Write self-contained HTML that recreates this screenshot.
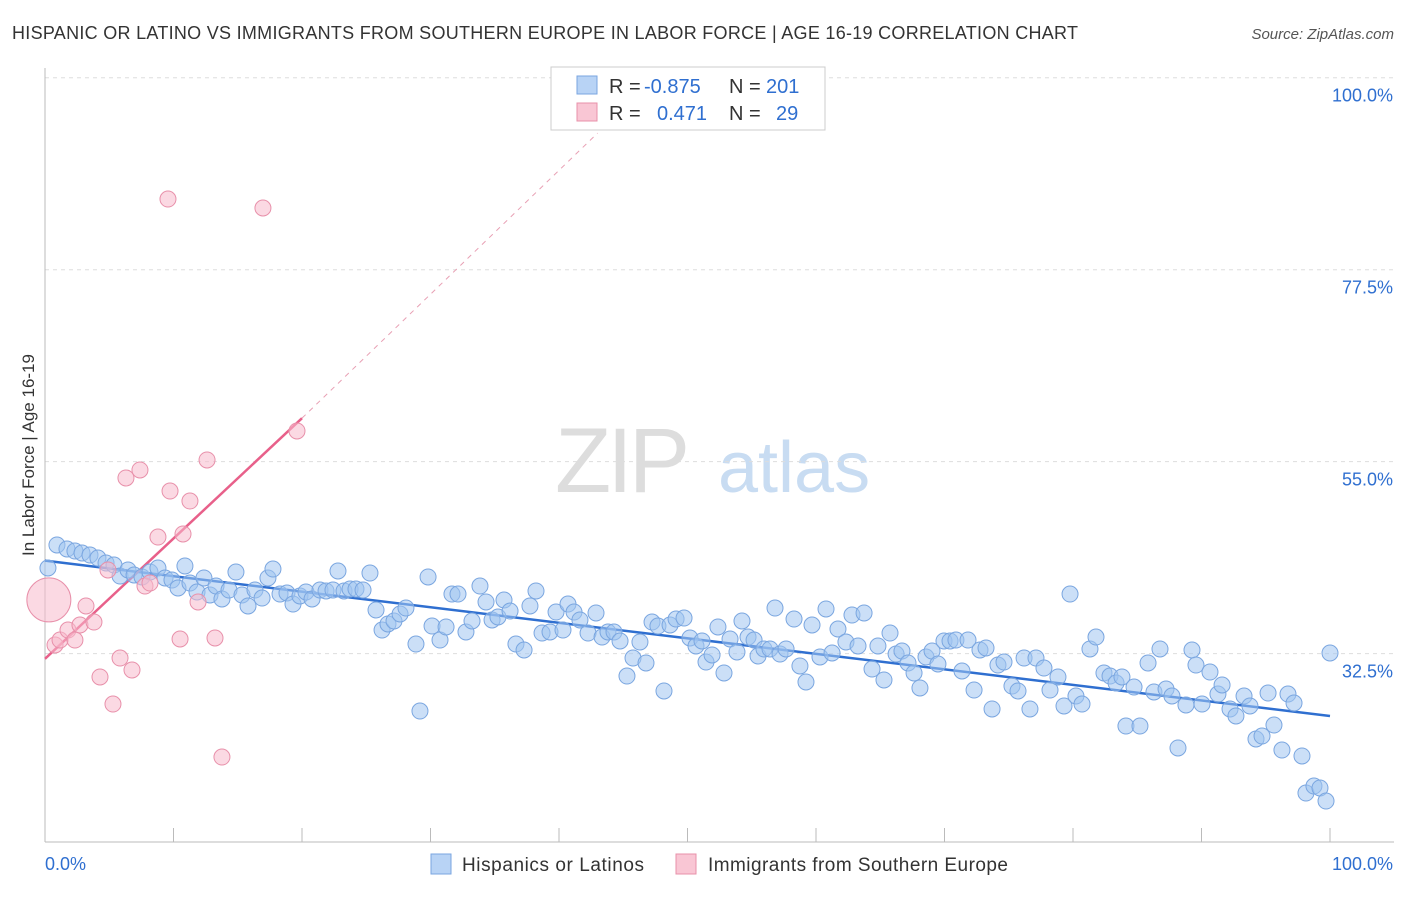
<!DOCTYPE html>
<html><head><meta charset="utf-8">
<style>
body{margin:0;background:#fff;font-family:"Liberation Sans",sans-serif;}
svg text{font-family:"Liberation Sans",sans-serif;}
</style></head>
<body>
<svg id="chart" width="1406" height="892" xmlns="http://www.w3.org/2000/svg">
<text x="12" y="39" font-size="18" fill="#333" textLength="1066" lengthAdjust="spacing">HISPANIC OR LATINO VS IMMIGRANTS FROM SOUTHERN EUROPE IN LABOR FORCE | AGE 16-19 CORRELATION CHART</text>
<text x="1394" y="39" font-size="15" fill="#555" text-anchor="end" font-style="italic">Source: ZipAtlas.com</text>
<g>
<text x="555" y="492" font-size="92" fill="#ddd" font-family="Liberation Serif" letter-spacing="-4">ZIP</text>
<text x="718" y="492" font-size="72" fill="#c8dcf2">atlas</text>
</g>
<g id="grid"></g>
<g id="axes"></g>
<g id="lines"></g>
<g id="pts"></g>
<text transform="translate(34,455) rotate(-90)" font-size="17" fill="#333" text-anchor="middle">In Labor Force | Age 16-19</text>
<g>
<rect x="551" y="67" width="274" height="63" fill="#fff" stroke="#ccc"/>
<rect x="577" y="76" width="20" height="18" fill="#b8d3f5" stroke="#7aa6e0"/>
<rect x="577" y="103" width="20" height="18" fill="#f9c6d4" stroke="#e890aa"/>
<text x="609" y="93" font-size="20" fill="#333">R =</text>
<text x="644" y="93" font-size="20" fill="#2f6fd0">-0.875</text>
<text x="729" y="93" font-size="20" fill="#333">N =</text>
<text x="766" y="93" font-size="20" fill="#2f6fd0">201</text>
<text x="609" y="120" font-size="20" fill="#333">R =</text>
<text x="657" y="120" font-size="20" fill="#2f6fd0">0.471</text>
<text x="729" y="120" font-size="20" fill="#333">N =</text>
<text x="776" y="120" font-size="20" fill="#2f6fd0">29</text>
</g>
<g>
<rect x="431" y="854" width="20" height="20" fill="#b8d3f5" stroke="#7aa6e0"/>
<text x="462" y="871" font-size="19" fill="#333" textLength="182" lengthAdjust="spacing">Hispanics or Latinos</text>
<rect x="676" y="854" width="20" height="20" fill="#f9c6d4" stroke="#e890aa"/>
<text x="708" y="871" font-size="19" fill="#333" textLength="300" lengthAdjust="spacing">Immigrants from Southern Europe</text>
</g>
</svg>
<script>
const yTicks=[100,77.5,55,32.5];
const yTickLabels=["100.0%","77.5%","55.0%","32.5%"];
const xTickLabels=["0.0%","100.0%"];
const bluePx=[[48,568],[57,545],[67,549],[75,551],[82,553],[90,555],[98,558],[106,563],[114,565],[120,576],[128,570],[134,575],[142,577],[150,572],[158,568],[165,578],[172,580],[178,588],[185,566],[190,583],[197,592],[204,578],[210,595],[216,586],[222,599],[229,590],[236,572],[242,595],[248,606],[255,590],[262,598],[268,578],[273,569],[280,594],[287,593],[293,604],[300,596],[306,592],[312,599],[320,590],[326,591],[333,590],[338,571],[344,591],[350,589],[356,589],[363,590],[370,573],[376,610],[382,630],[388,624],[394,621],[400,614],[406,608],[416,644],[420,711],[428,577],[432,626],[440,640],[446,627],[452,594],[458,594],[466,632],[472,621],[480,586],[486,602],[492,620],[498,617],[504,600],[510,611],[516,644],[524,650],[530,606],[536,591],[542,633],[550,632],[556,612],[563,630],[568,604],[574,612],[580,620],[588,633],[596,613],[602,637],[608,632],[614,632],[620,641],[627,676],[633,658],[640,642],[646,663],[652,622],[658,626],[664,691],[670,625],[676,619],[684,618],[690,638],[696,646],[702,641],[706,662],[712,655],[718,627],[724,673],[730,639],[737,652],[742,621],[748,637],[754,640],[758,656],[764,649],[770,649],[775,608],[780,654],[786,649],[794,619],[800,666],[806,682],[812,625],[820,657],[826,609],[832,653],[838,629],[846,642],[852,615],[858,646],[864,613],[872,669],[878,646],[884,680],[890,633],[896,654],[902,651],[908,663],[914,673],[920,688],[926,657],[932,651],[938,664],[944,641],[950,641],[956,640],[962,671],[968,640],[974,690],[980,650],[986,648],[992,709],[998,665],[1004,662],[1012,686],[1018,691],[1024,658],[1030,709],[1036,658],[1044,668],[1050,690],[1058,677],[1064,706],[1070,594],[1076,696],[1082,704],[1090,649],[1096,637],[1104,673],[1110,676],[1116,683],[1122,677],[1126,726],[1134,687],[1140,726],[1148,663],[1154,692],[1160,649],[1166,689],[1172,696],[1178,748],[1186,705],[1192,650],[1196,665],[1202,704],[1210,672],[1218,694],[1222,685],[1230,709],[1236,716],[1244,696],[1250,706],[1256,739],[1262,736],[1268,693],[1274,725],[1282,750],[1288,694],[1294,703],[1302,756],[1306,793],[1314,786],[1320,788],[1326,801],[1330,653]];
const pinkPx=[[55,645],[60,640],[68,630],[75,640],[80,625],[86,606],[94,622],[100,677],[108,570],[113,704],[120,658],[132,670],[126,478],[140,470],[145,586],[150,583],[158,537],[168,199],[170,491],[180,639],[183,534],[190,501],[198,602],[207,460],[215,638],[222,757],[263,208],[297,431]];
const blueX=bluePx.map(p=>+((p[0]-45)/12.85).toFixed(2));
const blueY=bluePx.map(p=>+((931-p[1])/8.533).toFixed(2));
const pinkX=[0.3].concat(pinkPx.map(p=>+((p[0]-45)/12.85).toFixed(2)));
const pinkY=[38.8].concat(pinkPx.map(p=>+((931-p[1])/8.533).toFixed(2)));
const blueTrend=[[0,43.4],[100,25.2]];
const pinkTrend=[[0,31.9],[20,60.1]];
const pinkDash=[[20,60.1],[43,93.5]];

const X=v=>45+v*12.85, Y=v=>931-v*8.533;
const NS="http://www.w3.org/2000/svg";
function mk(t,a,parent){const e=document.createElementNS(NS,t);for(const k in a)e.setAttribute(k,a[k]);parent.appendChild(e);return e;}
const grid=document.getElementById('grid'),axes=document.getElementById('axes'),lines=document.getElementById('lines'),pts=document.getElementById('pts');
yTicks.forEach((t,i)=>{
 const g=mk('line',{x1:45,x2:1394,y1:Y(t),y2:Y(t),stroke:'#ddd','stroke-dasharray':'4,4'},grid);
 
 
 const l=mk('text',{x:1393,y:Y(t)+24,'font-size':18,fill:'#2f6fd0','text-anchor':'end'},axes);
 l.textContent=yTickLabels[i];
 
 
});
const ax=mk('line',{x1:45,x2:45,y1:68,y2:842,stroke:'#bbb'},axes);


const bx=mk('line',{x1:45,x2:1394,y1:842,y2:842,stroke:'#bbb'},axes);


for(let i=0;i<=10;i++){const t=mk('line',{x1:X(i*10),x2:X(i*10),y1:828,y2:842,stroke:'#bbb'},axes);
 
 }
[[0,'start',45],[1,'end',1393]].forEach(([i,a,x])=>{const t=mk('text',{x:x,y:870,'font-size':18,fill:'#2f6fd0','text-anchor':a},axes);t.textContent=xTickLabels[i];
 
 });
blueX.forEach((v,i)=>{const c=mk('circle',{cx:X(v),cy:Y(blueY[i]),r:8,fill:'rgba(160,196,240,0.55)',stroke:'#7aa6e0','stroke-width':1},pts);
 
 });
pinkX.forEach((v,i)=>{const c=mk('circle',{cx:X(v),cy:Y(pinkY[i]),r:i==0?22:8,fill:'rgba(248,186,204,0.55)',stroke:'#e890aa','stroke-width':1},pts);
 
 });
const bl=mk('line',{x1:X(blueTrend[0][0]),y1:Y(blueTrend[0][1]),x2:X(blueTrend[1][0]),y2:Y(blueTrend[1][1]),stroke:'#2f6fd0','stroke-width':2.5},lines);


const pl=mk('line',{x1:X(pinkTrend[0][0]),y1:Y(pinkTrend[0][1]),x2:X(pinkTrend[1][0]),y2:Y(pinkTrend[1][1]),stroke:'#e8608a','stroke-width':2.5},lines);


const pd=mk('line',{x1:X(pinkDash[0][0]),y1:Y(pinkDash[0][1]),x2:X(pinkDash[1][0]),y2:Y(pinkDash[1][1]),stroke:'#e8a0b4','stroke-width':1,'stroke-dasharray':'5,5'},lines);


</script>
</body></html>
